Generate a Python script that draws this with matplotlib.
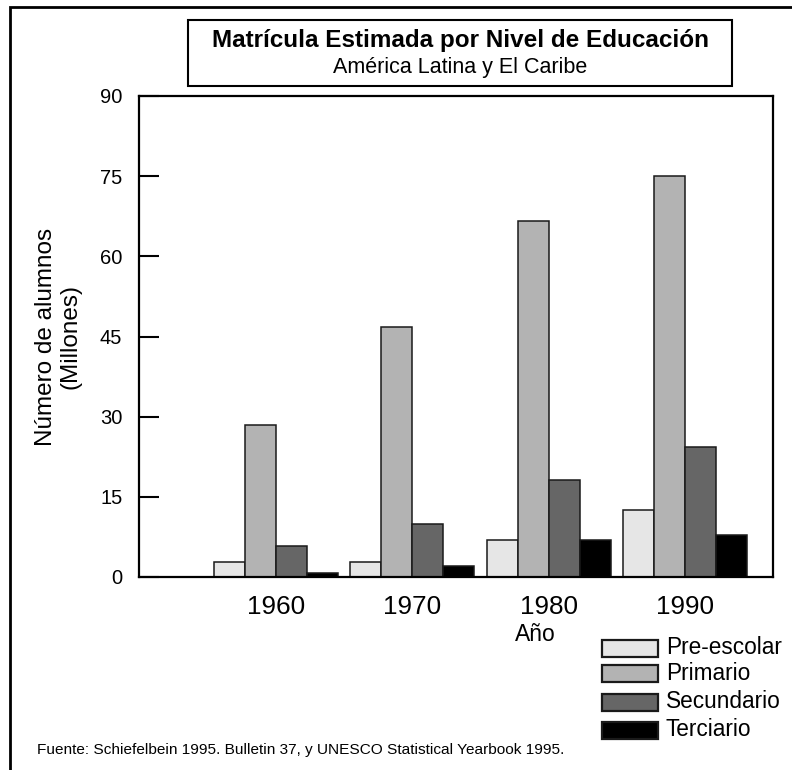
import matplotlib
matplotlib.use("Agg")
import matplotlib.pyplot as plt
from matplotlib.patches import Rectangle
import numpy as np

plt.rcParams['font.family'] = ['Liberation Sans', 'DejaVu Sans']

# ---- data ----
years = ["1960", "1970", "1980", "1990"]
series_names = ["Pre-escolar", "Primario", "Secundario", "Terciario"]
pre_escolar = [2.8, 2.8, 7.0, 12.6]
primario = [28.5, 46.8, 66.6, 75.1]
secundario = [5.8, 10.0, 18.2, 24.4]
terciario = [0.8, 2.0, 7.0, 7.9]
series_values = [pre_escolar, primario, secundario, terciario]
series_colors = ["#e6e6e6", "#b3b3b3", "#666666", "#000000"]
yticks = [0, 15, 30, 45, 60, 75, 90]

title = "Matrícula Estimada por Nivel de Educación"
subtitle = "América Latina y El Caribe"
ylabel = "Número de alumnos\n(Millones)"
xlabel = "Año"
source = "Fuente: Schiefelbein 1995. Bulletin 37, y UNESCO Statistical Yearbook 1995."

W, H = 792, 770
fig = plt.figure(figsize=(W / 100, H / 100), dpi=100)


def fx(px):
    return px / W


def fy(py):
    return 1 - py / H


# axes: x 139..773, y 96..577
ax = fig.add_axes([fx(139), fy(577), fx(773) - fx(139), fy(96) - fy(577)])

x = np.arange(len(years))
w = 0.227
offsets = [-1.5, -0.5, 0.5, 1.5]
for vals, col, off in zip(series_values, series_colors, offsets):
    ax.bar(x + off * w, vals, width=w, color=col, edgecolor="#1a1a1a",
           linewidth=1.1, zorder=2)

ax.set_xlim(-1.005, 3.646)
ax.set_ylim(0, 90)
ax.set_yticks(yticks)
ax.set_yticklabels([str(v) for v in yticks], fontsize=14.5)
ax.set_xticks(x)
ax.set_xticklabels(years, fontsize=18.8)
ax.tick_params(axis="y", direction="in", length=14.5, width=1.5, pad=12)
ax.tick_params(axis="x", length=0, pad=13)
for s in ax.spines.values():
    s.set_linewidth(1.6)

ax.set_xlabel(xlabel, fontsize=16.5, labelpad=3)
ax.xaxis.set_label_coords(0.625, -0.095)
ax.set_ylabel(ylabel, fontsize=17.5, labelpad=13, linespacing=1.15)

# title box
fig.add_artist(Rectangle((fx(188), fy(86)), fx(732) - fx(188), fy(20) - fy(86),
                         transform=fig.transFigure, fill=False, lw=1.5,
                         edgecolor="black"))
fig.text(fx(460), fy(41), title, fontsize=17.5, fontweight="bold",
         ha="center", va="center")
fig.text(fx(460), fy(67), subtitle, fontsize=15.5, ha="center", va="center")

# outer frame
fig.add_artist(Rectangle((fx(10), -0.05), 1.1, fy(7) + 0.05,
                         transform=fig.transFigure, fill=False, lw=2,
                         edgecolor="black"))

# legend (manual)
leg_rows = [648, 673, 702, 730]
for name, col, yc in zip(series_names, series_colors, leg_rows):
    fig.add_artist(Rectangle((fx(602), fy(yc + 8.5)), fx(658) - fx(602),
                             fy(yc - 8.5) - fy(yc + 8.5),
                             transform=fig.transFigure, facecolor=col,
                             edgecolor="#1a1a1a", lw=1.6))
    fig.text(fx(666), fy(yc), name, fontsize=16.3, ha="left", va="center")

fig.text(fx(37), fy(750), source, fontsize=11.1, ha="left", va="center")

fig.savefig("out.png", dpi=100)
